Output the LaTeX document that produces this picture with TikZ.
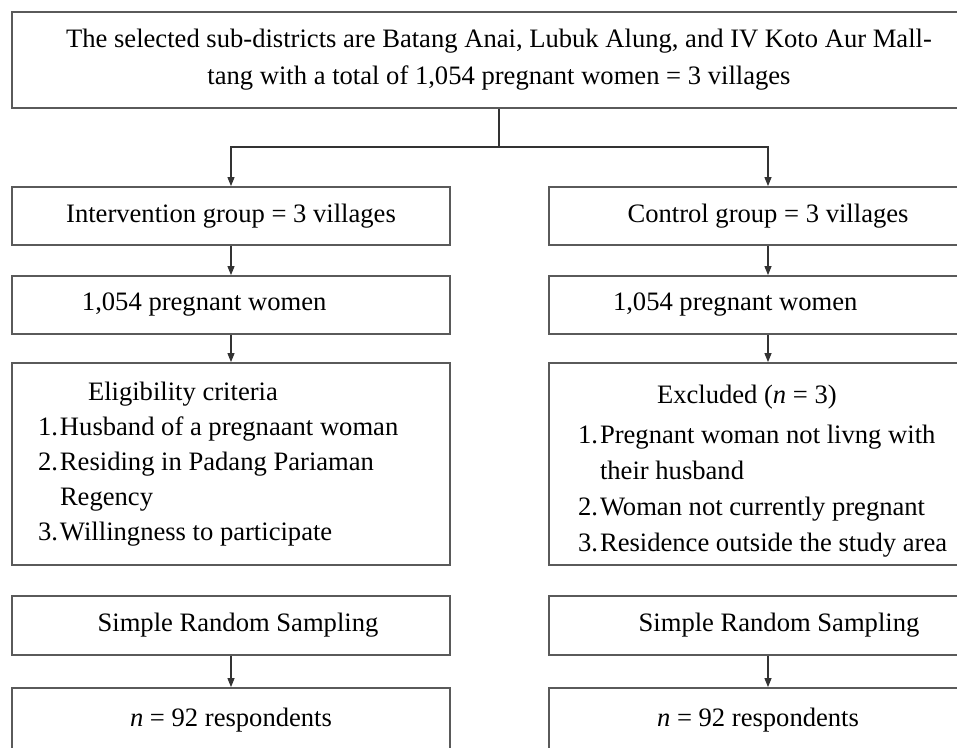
\documentclass[tikz,border=0pt]{standalone}
\usepackage{fontspec}
\setmainfont{Liberation Serif}
\usetikzlibrary{arrows.meta,positioning}
\definecolor{boxgray}{HTML}{5A5A5A}
\definecolor{linegray}{HTML}{333333}
\newcommand{\flowfont}{\fontsize{26.6}{35}\selectfont}
\newcommand{\listnum}[1]{\makebox[22pt][l]{#1}}

\begin{document}
\begin{tikzpicture}[x=1pt,y=-1pt,
 flowbox/.style={draw=boxgray,line width=1.8pt,minimum width=438pt,minimum height=58pt,
  inner sep=0pt,align=center,font=\flowfont},
 listbox/.style={flowbox,text width=438pt,align=flush left},
 flowarrow/.style={draw=linegray,line width=1.1pt,-{Triangle[width=7pt,length=9pt]}}]
\useasboundingbox (0,0) rectangle (957,747);
\clip (0,0) rectangle (957,747);
\fill[white] (0,0) rectangle (957,747);

% study area
\node[flowbox,minimum width=974pt,minimum height=96pt] (area) at (499,60)
 {The selected sub-districts are Batang Anai, Lubuk Alung, and IV Koto Aur Mall-\\[2pt]
  tang with a total of 1,054 pregnant women = 3 villages};
\coordinate (split) at (499,147);

% intervention side
\node[flowbox] (intgroup) at (231,216) {Intervention group = 3 villages};
\node[listbox] (intwomen) at (231,305) {\hspace*{70pt}1,054 pregnant women};
\node[listbox,minimum height=202pt] (eligible) at (231,464)
 {\hspace*{76pt}Eligibility criteria\\
  \hspace*{26pt}\listnum{1.}Husband of a pregnaant woman\\
  \hspace*{26pt}\listnum{2.}Residing in Padang Pariaman\\
  \hspace*{48pt}Regency\\
  \hspace*{26pt}\listnum{3.}Willingness to participate};
\node[flowbox,minimum height=59pt] (intsrs) at (231,625.5) {\hspace*{14pt}Simple Random Sampling};
\node[flowbox,minimum height=64pt] (intresp) at (231,720) {\textit{n} = 92 respondents};

% control side
\node[flowbox] (ctlgroup) at (768,216) {Control group = 3 villages};
\node[listbox] (ctlwomen) at (768,305) {\hspace*{64pt}1,054 pregnant women};
\node[listbox,minimum height=202pt] (excluded) at (768,464)
 {\rule{0pt}{33pt}\hspace*{108pt}Excluded (\textit{n} = 3)\\[5pt]
  \hspace*{29pt}\listnum{1.}Pregnant woman not livng with\\[1pt]
  \hspace*{51pt}their husband\\[1pt]
  \hspace*{29pt}\listnum{2.}Woman not currently pregnant\\[1pt]
  \hspace*{29pt}\listnum{3.}Residence outside the study area};
\node[flowbox,minimum height=59pt] (ctlsrs) at (768,625.5) {\hspace*{22pt}Simple Random Sampling};
\node[flowbox,minimum height=64pt] (ctlresp) at (768,720) {\hspace*{-20pt}\textit{n} = 92 respondents};

% connectors
\draw[draw=linegray,line width=1.1pt] (area.south) -- (split);
\draw[flowarrow] (split) -| (intgroup.north);
\draw[flowarrow] (split) -| (ctlgroup.north);
\draw[flowarrow] (intgroup) -- (intwomen);
\draw[flowarrow] (intwomen) -- (eligible);
\draw[flowarrow] (intsrs) -- (intresp);
\draw[flowarrow] (ctlgroup) -- (ctlwomen);
\draw[flowarrow] (ctlwomen) -- (excluded);
\draw[flowarrow] (ctlsrs) -- (ctlresp);
\end{tikzpicture}
\end{document}
